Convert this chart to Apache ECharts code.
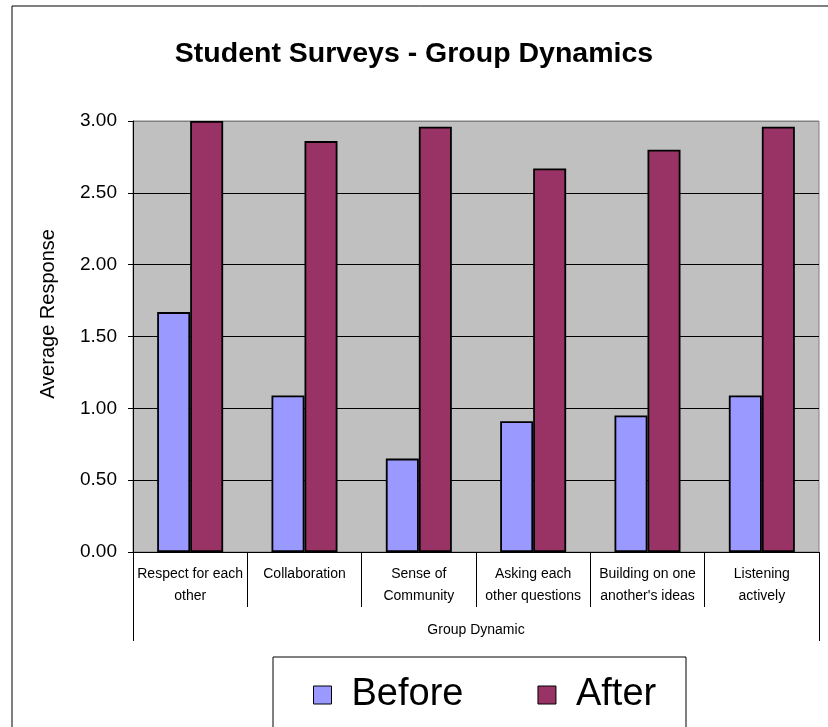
<!DOCTYPE html>
<html>
<head>
<meta charset="utf-8">
<script src="https://cdn.jsdelivr.net/npm/echarts@6/dist/echarts.min.js"></script>
<style>
html,body{margin:0;padding:0;background:#fff;}
#main{width:828px;height:727px;}
</style>
</head>
<body>
<div id="main"></div>
<script>
const categories = [
  "Respect for each\nother",
  "Collaboration",
  "Sense of\nCommunity",
  "Asking each\nother questions",
  "Building on one\nanother's ideas",
  "Listening\nactively"
];
const beforeValues = [1.67, 1.09, 0.65, 0.91, 0.95, 1.09];
const afterValues = [3.00, 2.86, 2.96, 2.67, 2.80, 2.96];
const seriesNames = ["Before", "After"];
const titleText = "Student Surveys - Group Dynamics";
const yAxisTitle = "Average Response";
const xAxisTitle = "Group Dynamic";

const FONT = "Liberation Sans, Arial, sans-serif";
const chart = echarts.init(document.getElementById('main'), null, {renderer: 'canvas'});

const option = {
  backgroundColor: '#ffffff',
  animation: false,
  title: {
    text: titleText,
    left: 'center',
    top: 35,
    textStyle: {fontFamily: FONT, fontSize: 28.5, fontWeight: 'bold', color: '#000'}
  },
  legend: {
    data: seriesNames,
    left: 313,
    top: 676,
    icon: 'rect',
    itemWidth: 18,
    itemHeight: 18,
    itemGap: 74,
    padding: 0,
    textStyle: {fontFamily: FONT, fontSize: 38, color: '#000', padding: [0, 0, 6, 15]},
    itemStyle: {borderColor: '#000', borderWidth: 1}
  },
  grid: {
    left: 133,
    right: 9,
    top: 121,
    bottom: 175,
    show: true,
    backgroundColor: '#C0C0C0',
    borderColor: '#808080',
    borderWidth: 1
  },
  graphic: [
    {type: 'rect', shape: {x: 12, y: 6, width: 830, height: 740}, style: {fill: 'none', stroke: '#000', lineWidth: 1}, silent: true},
    {type: 'rect', shape: {x: 273, y: 657, width: 413, height: 100}, style: {fill: '#fff', stroke: '#000', lineWidth: 1}, silent: true, z: -1},
    {type: 'text', x: 48, y: 314, rotation: Math.PI / 2,
     style: {text: yAxisTitle, fontFamily: FONT, fontSize: 20, fill: '#000', textAlign: 'center', textVerticalAlign: 'middle'}}
  ],
  xAxis: [
    {
      type: 'category',
      data: categories,
      position: 'bottom',
      axisLine: {show: true, lineStyle: {color: '#000', width: 1}},
      axisTick: {show: true, interval: 0, length: 55, lineStyle: {color: '#000', width: 1}},
      axisLabel: {interval: 0, margin: 11, fontFamily: FONT, fontSize: 14, lineHeight: 22, color: '#000'},
      splitLine: {show: false}
    },
    {
      type: 'category',
      data: [''],
      position: 'bottom',
      axisLine: {show: false},
      axisTick: {show: true, length: 89, lineStyle: {color: '#000', width: 1}},
      axisLabel: {show: false},
      name: xAxisTitle,
      nameLocation: 'middle',
      nameGap: 71,
      nameTextStyle: {fontFamily: FONT, fontSize: 14, color: '#000'}
    }
  ],
  yAxis: {
    type: 'value',
    min: 0,
    max: 3,
    interval: 0.5,
    axisLine: {show: true, lineStyle: {color: '#000', width: 1}},
    axisTick: {show: true, length: 5, lineStyle: {color: '#000'}},
    axisLabel: {margin: 16, fontFamily: FONT, fontSize: 19, color: '#000',
      formatter: v => v.toFixed(2)},
    splitLine: {show: true, lineStyle: {color: ['#000', '#000', '#000', '#000', '#000', '#000', '#808080'], width: 1}}
  },
  series: [
    {
      name: seriesNames[0],
      type: 'bar',
      data: beforeValues,
      barWidth: 33,
      barGap: '0%',
      itemStyle: {color: '#9999FF', borderColor: '#000', borderWidth: 1.8}
    },
    {
      name: seriesNames[1],
      type: 'bar',
      data: afterValues,
      barWidth: 33,
      barGap: '0%',
      itemStyle: {color: '#993366', borderColor: '#000', borderWidth: 1.8}
    }
  ]
};
chart.setOption(option);
</script>
</body>
</html>
